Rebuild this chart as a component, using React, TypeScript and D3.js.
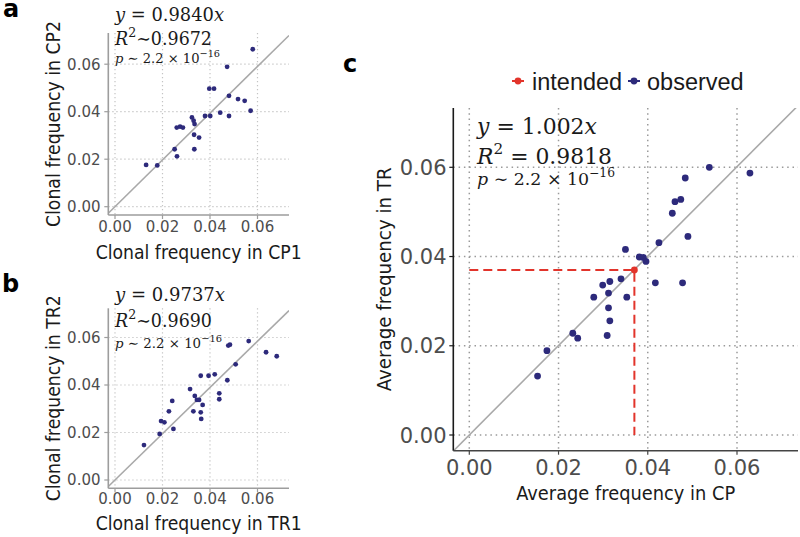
import React from 'react';
import * as d3 from 'd3';

const TICKS = [0, 0.02, 0.04, 0.06];
const TICK_LABELS = ['0.00', '0.02', '0.04', '0.06'];

const cp1Freq = [0.0580, 0.0472, 0.0397, 0.0417, 0.0480, 0.0518, 0.0546, 0.0571, 0.0443, 0.0480, 0.0379, 0.0401, 0.0324, 0.0331, 0.0335, 0.0260, 0.0274, 0.0286, 0.0333, 0.0354, 0.0251, 0.0334, 0.0261, 0.0178, 0.0131];
const cp2Freq = [0.0663, 0.0589, 0.0497, 0.0497, 0.0467, 0.0453, 0.0446, 0.0404, 0.0396, 0.0382, 0.0382, 0.0382, 0.0376, 0.0362, 0.0348, 0.0333, 0.0337, 0.0333, 0.0303, 0.0291, 0.0242, 0.0242, 0.0212, 0.0174, 0.0176];

const tr1Freq = [0.0563, 0.0477, 0.0484, 0.0636, 0.0681, 0.0508, 0.0361, 0.0394, 0.0420, 0.0473, 0.0316, 0.0439, 0.0336, 0.0345, 0.0354, 0.0439, 0.0241, 0.0369, 0.0227, 0.0330, 0.0361, 0.0363, 0.0194, 0.0208, 0.0246, 0.0188, 0.0122];
const tr2Freq = [0.0585, 0.0566, 0.0570, 0.0538, 0.0521, 0.0487, 0.0439, 0.0439, 0.0445, 0.0420, 0.0383, 0.0365, 0.0354, 0.0337, 0.0337, 0.0340, 0.0333, 0.0316, 0.0289, 0.0289, 0.0285, 0.0257, 0.0248, 0.0243, 0.0215, 0.0194, 0.0147];

const cpAvgFreq = [0.0538, 0.0484, 0.0461, 0.0474, 0.0455, 0.0490, 0.0425, 0.0350, 0.0381, 0.0390, 0.0396, 0.0417, 0.0478, 0.0340, 0.0315, 0.0299, 0.0312, 0.0279, 0.0353, 0.0312, 0.0315, 0.0232, 0.0243, 0.0309, 0.0174, 0.0153, 0.0629];
const trAvgFreq = [0.0600, 0.0576, 0.0523, 0.0528, 0.0497, 0.0445, 0.0431, 0.0416, 0.0399, 0.0398, 0.0389, 0.0341, 0.0341, 0.0350, 0.0344, 0.0336, 0.0318, 0.0309, 0.0309, 0.0285, 0.0256, 0.0228, 0.0217, 0.0223, 0.0189, 0.0132, 0.0587];

const intendedFreq = 0.037;
const slopes = { a: 0.984, b: 0.9737, c: 1.002 };
const slopeText = { a: '0.9840', b: '0.9737', c: '1.002' };
const r2Text = { a: '0.9672', b: '0.9690', c: '0.9818' };
const legendLabels = ['intended', 'observed'];

const NAVY = '#2d2a7b';
const RED = '#e2342b';
const SANS = 'DejaVu Sans';
const SERIF = 'DejaVu Serif';

type PanelCfg = {
  id: string;
  x0: number; x6: number; y0: number; y6: number;
  left: number; right: number; top: number; bottom: number;
  xs: number[]; ys: number[]; slope: number; r: number;
  tickFont: number; xTickY: number; yTickRight: number; tickColor: string;
  xTitle: string; yTitle: string; xTitleY: number; yTitleX: number;
  titleFont: number; titleLenX: number; titleLenY: number;
  axisLeft: string; axisBottom: string; gridColor: string; gridDash: string; gridW: number;
};

function Panel({ c, children }: { c: PanelCfg; children?: React.ReactNode }) {
  const x = d3.scaleLinear().domain([0, 0.06]).range([c.x0, c.x6]);
  const y = d3.scaleLinear().domain([0, 0.06]).range([c.y0, c.y6]);
  const d0 = x.invert(c.left);
  const d1 = x.invert(c.right);
  const line = d3.line<[number, number]>().x(d => x(d[0])).y(d => y(d[1]));
  const pts = c.xs.map((v, i) => [v, c.ys[i]] as [number, number]);
  const clip = `clip-${c.id}`;
  return (
    <g>
      <defs>
        <clipPath id={clip}>
          <rect x={c.left} y={c.top} width={c.right - c.left} height={c.bottom - c.top} />
        </clipPath>
      </defs>
      {TICKS.map(t => (
        <line key={'gx' + t} x1={x(t)} x2={x(t)} y1={c.top} y2={c.bottom}
          stroke={c.gridColor} strokeWidth={c.gridW} strokeDasharray={c.gridDash} />
      ))}
      {TICKS.map(t => (
        <line key={'gy' + t} x1={c.left} x2={c.right} y1={y(t)} y2={y(t)}
          stroke={c.gridColor} strokeWidth={c.gridW} strokeDasharray={c.gridDash} />
      ))}
      <path clipPath={`url(#${clip})`} d={line([[d0, c.slope * d0], [d1, c.slope * d1]]) || ''}
        stroke="#a9a9a9" strokeWidth={1.6} fill="none" />
      {children}
      {pts.map((p, i) => (
        <circle key={i} cx={x(p[0])} cy={y(p[1])} r={c.r} fill={NAVY} />
      ))}
      <line x1={c.left} x2={c.left} y1={c.top} y2={c.bottom} stroke={c.axisLeft} strokeWidth={1.6} />
      <line x1={c.left} x2={c.right} y1={c.bottom} y2={c.bottom} stroke={c.axisBottom} strokeWidth={1.6} />
      {TICKS.map((t, i) => (
        <g key={'ty' + t}>
          <line x1={c.left - 4} x2={c.left} y1={y(t)} y2={y(t)} stroke={c.axisLeft} strokeWidth={1.2} />
          <text x={c.yTickRight} y={y(t)} dy="0.36em" textAnchor="end" fontFamily={SANS}
            fontSize={c.tickFont} fill={c.tickColor}>{TICK_LABELS[i]}</text>
        </g>
      ))}
      {TICKS.map((t, i) => (
        <g key={'tx' + t}>
          <line x1={x(t)} x2={x(t)} y1={c.bottom} y2={c.bottom + 4} stroke={c.axisBottom} strokeWidth={1.2} />
          <text x={x(t)} y={c.xTickY} textAnchor="middle" fontFamily={SANS}
            fontSize={c.tickFont} fill={c.tickColor}>{TICK_LABELS[i]}</text>
        </g>
      ))}
      <text x={(c.left + c.right) / 2} y={c.xTitleY} textAnchor="middle" fontFamily={SANS}
        fontSize={c.titleFont} fill="#1a1a1a" textLength={c.titleLenX} lengthAdjust="spacingAndGlyphs">{c.xTitle}</text>
      <text transform={`translate(${c.yTitleX},${(c.top + c.bottom) / 2}) rotate(-90)`} textAnchor="middle"
        fontFamily={SANS} fontSize={c.titleFont} fill="#1a1a1a" textLength={c.titleLenY}
        lengthAdjust="spacingAndGlyphs">{c.yTitle}</text>
    </g>
  );
}

function Stats({ x, ys, fs, pfs, lens, slope, r2, sep, pSpace }: {
  x: number; ys: number[]; fs: number; pfs: number; lens: number[]; slope: string; r2: string; sep: string; pSpace: string;
}) {
  const sup = Math.round(fs * 0.7);
  const psup = Math.round(pfs * 0.72);
  return (
    <g fontFamily={SERIF} fill="#1a1a1a">
      <text x={x} y={ys[0]} fontSize={fs} textLength={lens[0]} lengthAdjust="spacingAndGlyphs">
        <tspan fontStyle="italic">y</tspan> = {slope}<tspan fontStyle="italic">x</tspan>
      </text>
      <text x={x} y={ys[1]} fontSize={fs} textLength={lens[1]} lengthAdjust="spacingAndGlyphs">
        <tspan fontStyle="italic">R</tspan>
        <tspan fontSize={sup} dy={-fs * 0.42}>2</tspan>
        <tspan dy={fs * 0.42}>{sep}{r2}</tspan>
      </text>
      <text x={x} y={ys[2]} fontSize={pfs} textLength={lens[2]} lengthAdjust="spacingAndGlyphs">
        <tspan fontStyle="italic">p</tspan> ∼ 2.2{pSpace}× 10
        <tspan fontSize={psup} dy={-pfs * 0.45}>−16</tspan>
      </text>
    </g>
  );
}

const panelA: PanelCfg = {
  id: 'a', x0: 115, x6: 257.5, y0: 206.7, y6: 64.2,
  left: 108.3, right: 289, top: 33, bottom: 215,
  xs: cp1Freq, ys: cp2Freq, slope: slopes.a, r: 2.4,
  tickFont: 15, xTickY: 231.5, yTickRight: 100.5, tickColor: '#4d4d4d',
  xTitle: 'Clonal frequency in CP1', yTitle: 'Clonal frequency in CP2', xTitleY: 258.5, yTitleX: 60,
  titleFont: 19, titleLenX: 206, titleLenY: 206,
  axisLeft: '#9d9d9d', axisBottom: '#9d9d9d', gridColor: '#c4c4c4', gridDash: '1.3 2.7', gridW: 1.2,
};

const panelB: PanelCfg = {
  ...panelA, id: 'b', y0: 480, y6: 337.5, top: 308.3, bottom: 488.3,
  xs: tr1Freq, ys: tr2Freq, slope: slopes.b, xTickY: 503.5,
  xTitle: 'Clonal frequency in TR1', yTitle: 'Clonal frequency in TR2', xTitleY: 530,
};

const panelC: PanelCfg = {
  id: 'c', x0: 469.3, x6: 737, y0: 435, y6: 167.3,
  left: 453.3, right: 798, top: 108, bottom: 450.7,
  xs: cpAvgFreq, ys: trAvgFreq, slope: slopes.c, r: 3.4,
  tickFont: 21, xTickY: 475, yTickRight: 446.5, tickColor: '#4d4d4d',
  xTitle: 'Average frequency in CP', yTitle: 'Average frequency in TR', xTitleY: 500, yTitleX: 391,
  titleFont: 20, titleLenX: 219, titleLenY: 224,
  axisLeft: '#1a1a1a', axisBottom: '#444444', gridColor: '#9a9a9a', gridDash: '1.5 3.8', gridW: 1.5,
};

export default function App() {
  const xc = d3.scaleLinear().domain([0, 0.06]).range([panelC.x0, panelC.x6]);
  const yc = d3.scaleLinear().domain([0, 0.06]).range([panelC.y0, panelC.y6]);
  return (
    <svg width={800} height={537} style={{ position: 'absolute', left: 0, top: 0, background: '#fff' }}>
      <rect x={0} y={0} width={800} height={537} fill="#fff" />
      <Panel c={panelA} />
      <Panel c={panelB} />
      <Panel c={panelC}>
        <path d={`M${xc(0)},${yc(intendedFreq)}H${xc(intendedFreq)}V${yc(0)}`} fill="none"
          stroke={RED} strokeWidth={2} strokeDasharray="9 5" />
      </Panel>
      <circle cx={xc(intendedFreq)} cy={yc(intendedFreq)} r={3.4} fill={RED} />

      <Stats x={115} ys={[20.5, 45, 63]} fs={18} pfs={13.5} lens={[109, 97, 105]}
        slope={slopeText.a} r2={r2Text.a} sep="∼" pSpace=" " />
      <Stats x={115} ys={[301, 326.5, 348]} fs={18} pfs={13.5} lens={[110, 97, 107]}
        slope={slopeText.b} r2={r2Text.b} sep="∼" pSpace="  " />
      <Stats x={477} ys={[134, 163.5, 184.5]} fs={21.5} pfs={17} lens={[120, 135, 138]}
        slope={slopeText.c} r2={r2Text.c} sep=" = " pSpace=" " />

      <g fontFamily={SANS} fontWeight="bold" fontSize={24} fill="#000">
        <text x={3} y={17}>a</text>
        <text x={2} y={291.5}>b</text>
        <text x={343} y={72}>c</text>
      </g>

      <g fontFamily="Liberation Sans" fontSize={23.5} fill="#1a1a1a">
        <line x1={512} x2={524} y1={81} y2={81} stroke={RED} strokeWidth={2} />
        <circle cx={518} cy={81} r={3.4} fill={RED} />
        <text x={532} y={89.5}>{legendLabels[0]}</text>
        <line x1={628} x2={640} y1={81} y2={81} stroke={NAVY} strokeWidth={2} />
        <circle cx={634} cy={81} r={3.4} fill={NAVY} />
        <text x={647} y={89.5}>{legendLabels[1]}</text>
      </g>
    </svg>
  );
}
